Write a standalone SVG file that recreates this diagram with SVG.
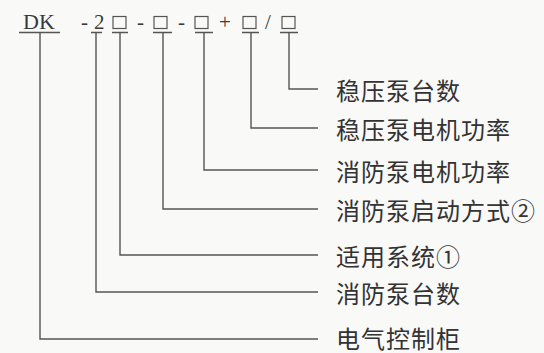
<svg xmlns="http://www.w3.org/2000/svg" width="544" height="353" viewBox="0 0 544 353">
<style>
.ln{fill:none;stroke:#555;stroke-width:1.4}
.lbl{font-family:"Noto Sans CJK SC","Noto Sans",sans-serif;font-size:24px;fill:#333;dominant-baseline:central}
.code{font-family:"Liberation Serif","Times New Roman",serif;font-size:21px;fill:#3a3a3a}
.box{fill:none;stroke:#555;stroke-width:1.2}
</style>
<rect x="0" y="0" width="544" height="353" fill="#f9f9f8"/>
<g id="code">
<text class="code" x="23" y="29" style="font-size:22px">DK</text>
<text class="code" x="81" y="29">-</text>
<text class="code" x="94" y="29">2</text>
<rect class="box" x="113" y="16.5" width="13" height="12"/>
<text class="code" x="137" y="29">-</text>
<rect class="box" x="154" y="16.5" width="13" height="12"/>
<text class="code" x="178" y="29">-</text>
<rect class="box" x="195" y="16.5" width="13" height="12"/>
<text class="code" x="219" y="29">+</text>
<rect class="box" x="243" y="16.5" width="13" height="12"/>
<text class="code" x="265" y="29">/</text>
<rect class="box" x="282" y="16.5" width="13" height="12"/>
<path class="ln" d="M19 32.5H60M91 32.5H102M112 32.5H128M153 32.5H172M195 32.5H213M242 32.5H259M280 32.5H298"/>
</g>
<g id="connectors">
<path class="ln" d="M289 32.5V89H318"/>
<path class="ln" d="M251 32.5V128H318"/>
<path class="ln" d="M204 32.5V170H318"/>
<path class="ln" d="M163 32.5V209H318"/>
<path class="ln" d="M120 32.5V255H318"/>
<path class="ln" d="M96 32.5V292H318"/>
<path class="ln" d="M40 32.5V339H318"/>
</g>
<g id="n1"><text class="lbl" x="336" y="89" letter-spacing="1">稳压泵台数</text></g>
<g id="n2"><text class="lbl" x="336" y="128" letter-spacing="1">稳压泵电机功率</text></g>
<g id="n3"><text class="lbl" x="336" y="170" letter-spacing="1">消防泵电机功率</text></g>
<g id="n4"><text class="lbl" x="336" y="209" letter-spacing="1">消防泵启动方式②</text></g>
<g id="n5"><text class="lbl" x="336" y="255" letter-spacing="1">适用系统①</text></g>
<g id="n6"><text class="lbl" x="336" y="292" letter-spacing="1">消防泵台数</text></g>
<g id="n7"><text class="lbl" x="336" y="337" letter-spacing="1">电气控制柜</text></g>
</svg>
